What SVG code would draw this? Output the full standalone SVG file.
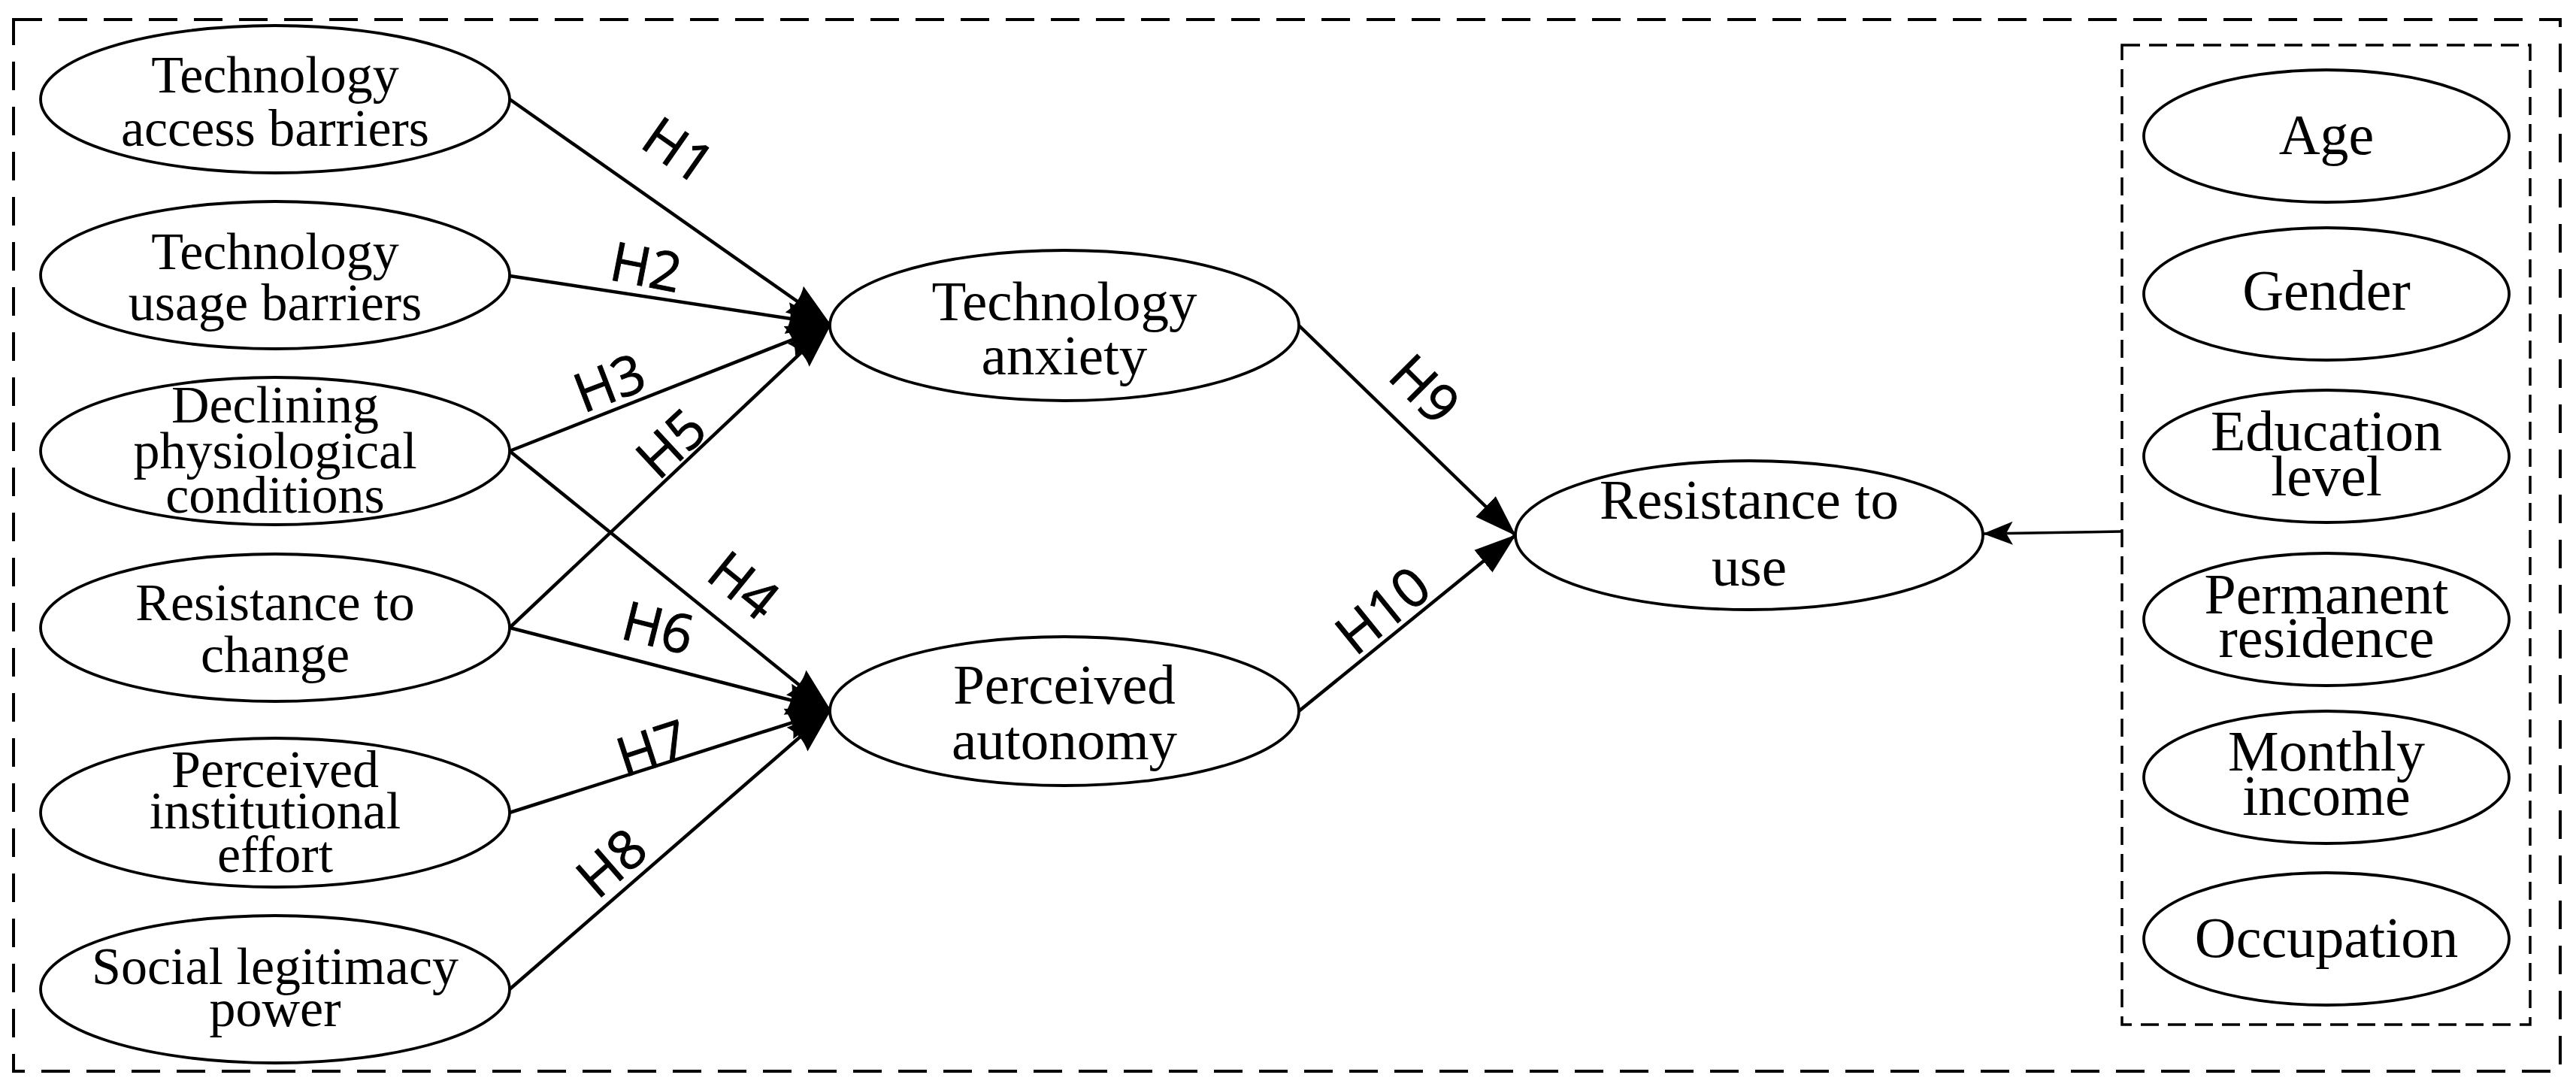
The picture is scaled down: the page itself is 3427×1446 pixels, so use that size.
<svg xmlns="http://www.w3.org/2000/svg" width="3427" height="1446" viewBox="0 0 3427 1446">
<style>
.node ellipse{fill:#fff;stroke:#000;stroke-width:3.8}
.node text{font-family:"Liberation Serif","Times New Roman",serif;fill:#000;text-anchor:middle}
.l text{font-size:70px}
.m text{font-size:75px}
.r text{font-size:76px}
.conn line{stroke:#000;stroke-width:4.5;fill:none}
.hl{font-family:"Open Sans","Noto Sans",sans-serif;font-size:72px;fill:#000;stroke:#000;stroke-width:1;text-anchor:middle;dominant-baseline:central}
.box{fill:none;stroke:#000}
</style>
<defs>
<marker id="big" markerUnits="userSpaceOnUse" markerWidth="60" markerHeight="50" viewBox="0 0 54 38" refX="53" refY="19" orient="auto">
<path d="M0,0 L54,19 L0,38 Q8,19 0,0 z" fill="#000"/>
</marker>
<marker id="mid" markerUnits="userSpaceOnUse" markerWidth="56" markerHeight="40" viewBox="0 0 50 34" refX="49" refY="17" orient="auto">
<path d="M0,0 L50,17 L0,34 z" fill="#000"/>
</marker>
<marker id="small" markerUnits="userSpaceOnUse" markerWidth="40" markerHeight="34" viewBox="0 0 36 28" refX="35" refY="14" orient="auto">
<path d="M0,0 L36,14 L0,28 L8,14 z" fill="#000"/>
</marker>
</defs>
<rect class="box" x="18" y="26" width="3388" height="1399" stroke-width="4" stroke-dasharray="38 22"/>
<rect class="box" x="2823" y="60" width="543" height="1303" stroke-width="3.5" stroke-dasharray="24 12"/>

<g id="connectors" class="conn">
<line x1="678" y1="132" x2="1105" y2="432" marker-end="url(#big)"/>
<line x1="678" y1="367" x2="1105" y2="432" marker-end="url(#big)"/>
<line x1="678" y1="600" x2="1105" y2="432" marker-end="url(#big)"/>
<line x1="678" y1="835" x2="1105" y2="432" marker-end="url(#big)"/>
<line x1="678" y1="600" x2="1105" y2="945" marker-end="url(#big)"/>
<line x1="678" y1="835" x2="1105" y2="945" marker-end="url(#big)"/>
<line x1="678" y1="1081" x2="1105" y2="945" marker-end="url(#big)"/>
<line x1="678" y1="1316" x2="1105" y2="945" marker-end="url(#big)"/>
<line x1="1728" y1="433" x2="2016" y2="712" marker-end="url(#mid)"/>
<line x1="1728" y1="946" x2="2016" y2="712" marker-end="url(#mid)"/>
<line x1="2823" y1="707" x2="2639" y2="710" marker-end="url(#small)" style="stroke-width:3.5"/>
</g>

<g id="labels">
<text class="hl" transform="translate(904,198) rotate(35)">H1</text>
<text class="hl" transform="translate(860,353) rotate(11)">H2</text>
<text class="hl" transform="translate(810,507) rotate(-21)">H3</text>
<text class="hl" transform="translate(991,777) rotate(39)">H4</text>
<text class="hl" transform="translate(891,588) rotate(-43)">H5</text>
<text class="hl" transform="translate(876,833) rotate(14)">H6</text>
<text class="hl" transform="translate(867,993) rotate(-18)">H7</text>
<text class="hl" transform="translate(812,1146) rotate(-41)">H8</text>
<text class="hl" transform="translate(1897,516) rotate(45)">H9</text>
<text class="hl" transform="translate(1838,810) rotate(-39)">H10</text>
</g>

<g id="n1" class="node l"><ellipse cx="366" cy="132" rx="312" ry="98"/><text x="366" y="123">Technology</text><text x="366" y="194">access barriers</text></g>
<g id="n2" class="node l"><ellipse cx="366" cy="366" rx="312" ry="98"/><text x="366" y="358">Technology</text><text x="366" y="426">usage barriers</text></g>
<g id="n3" class="node l"><ellipse cx="366" cy="600" rx="312" ry="98"/><text x="366" y="562">Declining</text><text x="366" y="623">physiological</text><text x="366" y="682">conditions</text></g>
<g id="n4" class="node l"><ellipse cx="366" cy="835" rx="312" ry="98"/><text x="366" y="825">Resistance to</text><text x="366" y="894">change</text></g>
<g id="n5" class="node l"><ellipse cx="366" cy="1081" rx="312" ry="99"/><text x="366" y="1047">Perceived</text><text x="366" y="1102">institutional</text><text x="366" y="1160">effort</text></g>
<g id="n6" class="node l"><ellipse cx="366" cy="1316" rx="312" ry="98"/><text x="366" y="1309">Social legitimacy</text><text x="366" y="1365">power</text></g>

<g id="n7" class="node m"><ellipse cx="1416" cy="433" rx="312" ry="100"/><text x="1416" y="426">Technology</text><text x="1416" y="498">anxiety</text></g>
<g id="n8" class="node m"><ellipse cx="1416" cy="946" rx="312" ry="99"/><text x="1416" y="936">Perceived</text><text x="1416" y="1010">autonomy</text></g>
<g id="n9" class="node m"><ellipse cx="2327" cy="712" rx="311" ry="99"/><text x="2327" y="690">Resistance to</text><text x="2327" y="779">use</text></g>

<g id="n10" class="node r"><ellipse cx="3095" cy="181" rx="243" ry="88"/><text x="3095" y="205">Age</text></g>
<g id="n11" class="node r"><ellipse cx="3095" cy="391" rx="243" ry="88"/><text x="3095" y="412">Gender</text></g>
<g id="n12" class="node r"><ellipse cx="3095" cy="607" rx="243" ry="88"/><text x="3095" y="599">Education</text><text x="3095" y="659">level</text></g>
<g id="n13" class="node r"><ellipse cx="3095" cy="824" rx="243" ry="88"/><text x="3095" y="816">Permanent</text><text x="3095" y="874">residence</text></g>
<g id="n14" class="node r"><ellipse cx="3095" cy="1034" rx="243" ry="88"/><text x="3095" y="1025">Monthly</text><text x="3095" y="1084">income</text></g>
<g id="n15" class="node r"><ellipse cx="3095" cy="1249" rx="243" ry="88"/><text x="3095" y="1273">Occupation</text></g>
</svg>
